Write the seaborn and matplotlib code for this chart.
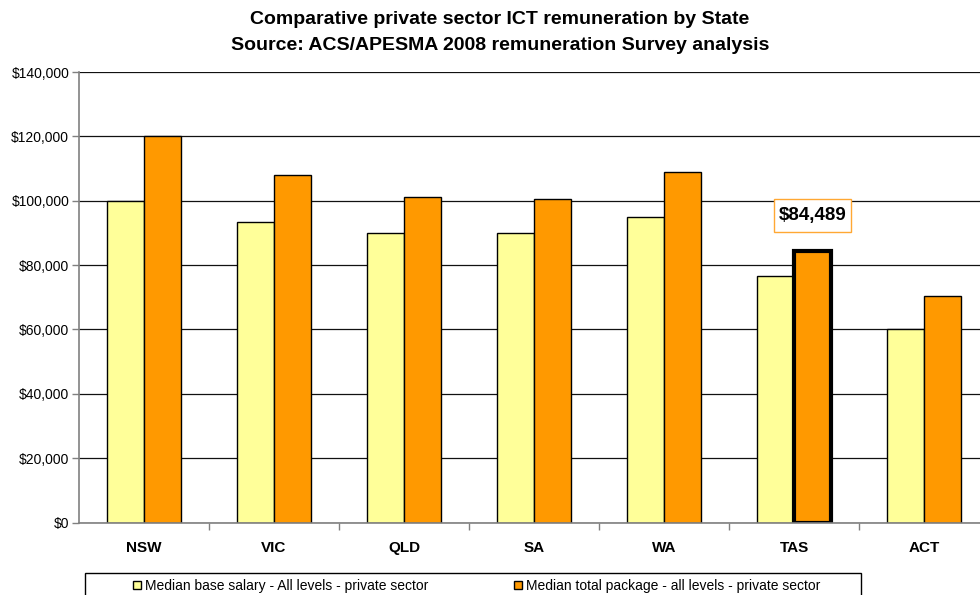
import matplotlib
matplotlib.use("Agg")
import matplotlib.pyplot as plt
from matplotlib.patches import Rectangle
from matplotlib.ticker import FuncFormatter, MultipleLocator
import seaborn as sns
import pandas as pd

# Remuneration by state (AUD)
states = ["NSW", "VIC", "QLD", "SA", "WA", "TAS", "ACT"]
base_salary = [100000, 93500, 90000, 90000, 95000, 76600, 60000]
total_package = [120000, 108000, 101000, 100400, 108900, 84489, 70300]
series_names = [
    "Median base salary - All levels - private sector",
    "Median total package - all levels - private sector",
]
series_colors = ["#FFFF99", "#FF9900"]
highlight_state = "TAS"
highlight_value = 84489

df = pd.DataFrame({
    "State": states * 2,
    "Series": [series_names[0]] * len(states) + [series_names[1]] * len(states),
    "Value": base_salary + total_package,
})

sns.set_theme(style="white")
plt.rcParams["font.family"] = ["Liberation Sans", "DejaVu Sans"]
plt.rcParams["text.color"] = "black"
plt.rcParams["xtick.color"] = "black"
plt.rcParams["ytick.color"] = "black"

fig = plt.figure(figsize=(9.8, 5.95), dpi=100)
W, H = 980, 595
ax_left, ax_right = 79, 989
ax_top, ax_bottom = 72, 522.5
ax = fig.add_axes([ax_left / W, 1 - ax_bottom / H,
                   (ax_right - ax_left) / W, (ax_bottom - ax_top) / H])

sns.barplot(data=df, x="State", y="Value", hue="Series", order=states,
            hue_order=series_names, palette=series_colors, width=0.57,
            gap=0, edgecolor="black", linewidth=1.0, saturation=1,
            legend=False, ax=ax)

ax.set_xlim(-0.5, len(states) - 0.5)
ax.set_ylim(0, 140000)
ax.yaxis.set_major_locator(MultipleLocator(20000))
ax.yaxis.set_major_formatter(FuncFormatter(lambda v, p: f"${v:,.0f}"))
ax.grid(axis="y", color="#111111", linewidth=0.9)
ax.set_axisbelow(True)
for side in ["top", "right"]:
    ax.spines[side].set_visible(False)
ax.spines["left"].set_color("#808080")
ax.spines["bottom"].set_color("#808080")
ax.spines["left"].set_linewidth(1.2)
ax.spines["bottom"].set_linewidth(1.2)

ax.tick_params(axis="y", which="major", left=True, length=5, width=1,
               color="#808080", labelsize=10, labelcolor="black", pad=2)
ax.set_xticks(range(len(states)))
ax.set_xticklabels(states, fontsize=11, fontweight="bold")
ax.tick_params(axis="x", which="major", length=0, pad=13)
ax.set_xticks([i + 0.5 for i in range(len(states))], minor=True)
ax.tick_params(axis="x", which="minor", bottom=True, length=5, width=1,
               color="#808080")
ax.set_xlabel("")
ax.set_ylabel("")

# Emphasise the highlighted total-package bar and label it
hi = states.index(highlight_state)
bar = ax.containers[1][hi]
bar.set_linewidth(3)
bx = bar.get_x() + bar.get_width() / 2
ax.annotate(f"${highlight_value:,}", xy=(bx, highlight_value),
            xytext=(0, 25.5), textcoords="offset points",
            ha="center", va="center", fontsize=13.5, fontweight="bold",
            bbox=dict(boxstyle="square,pad=0.24", mutation_aspect=1.8,
                      facecolor="white", edgecolor="#FFA833", linewidth=1))

fig.text(500 / W, 1 - 19 / H,
         "Comparative private sector ICT remuneration by State",
         ha="center", va="center", fontsize=14, fontweight="bold")
fig.text(500 / W, 1 - 45 / H,
         "Source: ACS/APESMA 2008 remuneration Survey analysis",
         ha="center", va="center", fontsize=14, fontweight="bold")

# Legend with frame
fig.patches.append(Rectangle((85 / W, 1 - 605 / H), 776 / W, 32.5 / H,
                             transform=fig.transFigure, facecolor="white",
                             edgecolor="black", linewidth=1))
handles = [Rectangle((0, 0), 1, 1, facecolor=c, edgecolor="black",
                     linewidth=1) for c in series_colors]
fig.legend(handles, series_names, loc="center", ncol=2,
           bbox_to_anchor=(476.5 / W, 1 - 586 / H), frameon=False,
           fontsize=10, handlelength=0.58, handleheight=0.58,
           handletextpad=0.25, columnspacing=6.2, borderpad=0)

fig.savefig("out.png", dpi=100, facecolor="white")
